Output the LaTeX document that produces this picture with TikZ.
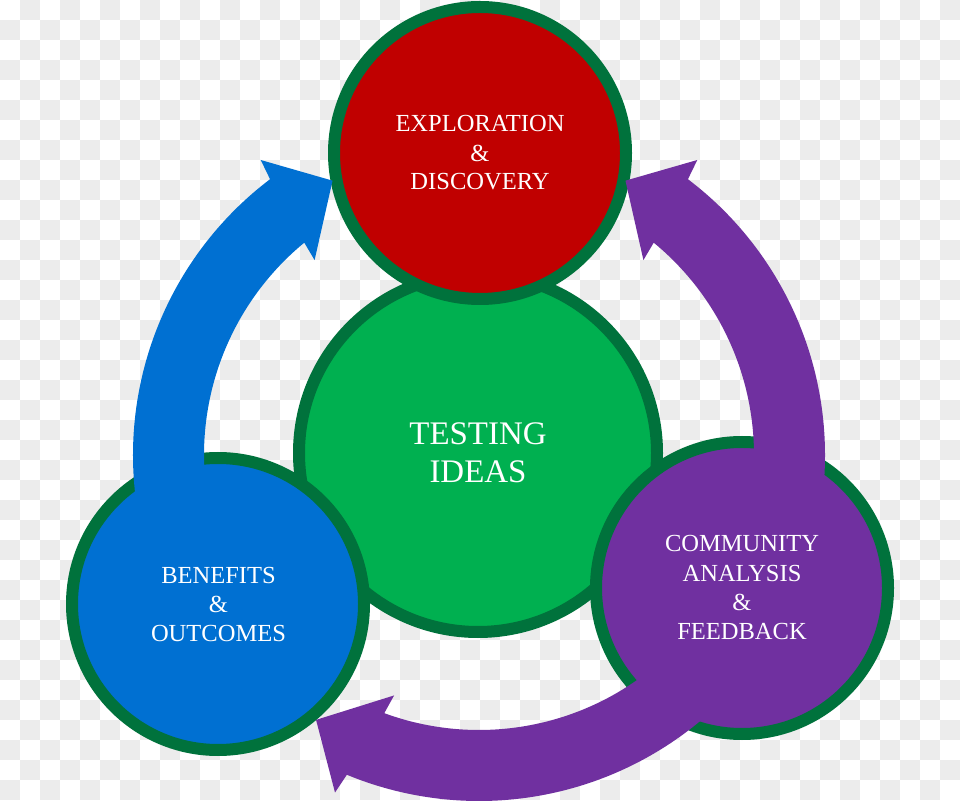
\documentclass[tikz,border=0pt]{standalone}
\usepackage{fontspec}
\setmainfont{Liberation Serif}
\definecolor{checkgray}{RGB}{236,236,236}
\definecolor{rimgreen}{RGB}{0,114,60}
\definecolor{redfill}{RGB}{192,0,0}
\definecolor{greenfill}{RGB}{0,176,80}
\definecolor{bluefill}{RGB}{0,112,210}
\definecolor{purplefill}{RGB}{112,48,160}
\tikzset{
  bubble/.style={circle, draw=rimgreen, line width=9pt, inner sep=0pt, outer sep=0pt},
  lbl/.style={text=white, anchor=base, inner sep=0pt, font=\fontsize{18.4}{22}\selectfont},
  biglbl/.style={text=white, anchor=base, inner sep=0pt, font=\fontsize{24.7}{29}\selectfont},
  blockarrow/.style={line width=0pt}
}
\begin{document}
\begin{tikzpicture}[x=0.75pt,y=0.75pt]
\useasboundingbox (0,0) rectangle (960,800);
\fill[white] (0,0) rectangle (960,800);
% checkerboard
\foreach \j in {0,2,...,38}{\foreach \i in {0,2,...,46}{\fill[checkgray] ({\i*20},{\j*20}) rectangle +(20,20);}}
\foreach \j in {1,3,...,39}{\foreach \i in {1,3,...,47}{\fill[checkgray] ({\i*20},{\j*20}) rectangle +(20,20);}}
% circles
\node[bubble, fill=greenfill, minimum size=268.5pt] (testing) at (478,347) {};
\node[bubble, fill=redfill, minimum size=219pt] (explore) at (480,647) {};
\node[bubble, fill=bluefill, minimum size=219pt] (benefit) at (218,196) {};
\node[bubble, fill=purplefill, minimum size=219pt] (community) at (742,212) {};
% block arc arrows around a common centre
\coordinate (hub) at (479,345);
\begin{scope}[shift={(hub)}]
\fill[bluefill] (190:346) arc[start angle=190, end angle=127.15, radius=346]
  -- (126.5:367) -- (118.1:311) -- (130.15:255) -- (129.45:275)
  arc[start angle=129.45, end angle=190, radius=275] -- cycle;
\fill[purplefill] (-10:346) arc[start angle=-10, end angle=52.85, radius=346]
  -- (53.5:367) -- (61.9:311) -- (49.85:255) -- (50.55:275)
  arc[start angle=50.55, end angle=-10, radius=275] -- cycle;
\fill[purplefill] (-20:346) arc[start angle=-20, end angle=-112.45, radius=346]
  -- (-113.1:367) -- (-121.6:311) -- (-109.45:255) -- (-110.15:275)
  arc[start angle=-110.15, end angle=-20, radius=275] -- cycle;
\end{scope}
% labels
\node[lbl] (e1) at (480,668) {EXPLORATION};
\node[lbl] (e2) at (480,638) {\&};
\node[lbl] (e3) at (480,610) {DISCOVERY};
\node[biglbl] (t1) at (478,355) {TESTING};
\node[biglbl] (t2) at (478,317) {IDEAS};
\node[lbl] (b1) at (218.5,216) {BENEFITS};
\node[lbl] (b2) at (218.5,187) {\&};
\node[lbl] (b3) at (218.5,158) {OUTCOMES};
\node[lbl] (c1) at (742,248) {COMMUNITY};
\node[lbl] (c2) at (742,218) {ANALYSIS};
\node[lbl] (c3) at (742,190) {\&};
\node[lbl] (c4) at (742,161) {FEEDBACK};
\end{tikzpicture}
\end{document}
